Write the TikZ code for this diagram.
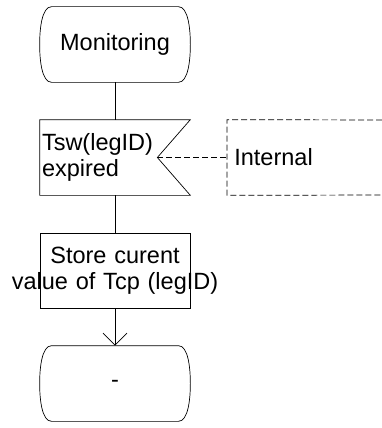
\documentclass[tikz,border=0pt]{standalone}
\usepackage{fontspec}
\setmainfont{Liberation Sans}
\usetikzlibrary{arrows.meta}
\newcommand\stateoutline[1]{%
\draw ([xshift=12pt]#1.north west) -- ([xshift=-12pt]#1.north east)
  .. controls +(10,0) and +(0,-15) .. (#1.east)
  .. controls +(0,15) and +(10,0) .. ([xshift=-12pt]#1.south east)
  -- ([xshift=12pt]#1.south west)
  .. controls +(-10,0) and +(0,15) .. (#1.west)
  .. controls +(0,-15) and +(-10,0) .. ([xshift=12pt]#1.north west) -- cycle;}
\begin{document}
\begin{tikzpicture}[x=1pt,y=-1pt,line width=0.7pt,
  every node/.style={font=\fontsize{23.5}{26}\selectfont},
  shapebox/.style={minimum width=150pt,minimum height=75pt,inner sep=0pt},
  sigbox/.style={shapebox,text width=146pt,inner xsep=2pt,align=left},
  taskbox/.style={shapebox,draw,text width=146pt,inner xsep=2pt,align=center},
  dashline/.style={dash pattern=on 6pt off 3pt},
  arrowflow/.style={-{Straight Barb[length=12pt,width=24pt]}}]
\useasboundingbox (0,0) rectangle (382,428);
\node[shapebox] (mon) at (115,44.5) {Monitoring};
\node[sigbox] (sig) at (115,157.5) {Tsw(legID)\\expired};
\node[taskbox] (task) at (115,270.5) {Store curent\\\makebox[\linewidth]{value of Tcp (legID)}};
\node[shapebox] (next) at (115,383.5) {-};
\node[minimum height=75pt,inner ysep=0pt,inner xsep=7pt,anchor=west] (ibox) at (227,157.5) {Internal};
\coordinate (notch) at ([xshift=-33pt]sig.east);
\stateoutline{mon}
\stateoutline{next}
\draw (sig.north west) -- (sig.north east) -- (notch) -- (sig.south east) -- (sig.south west) -- cycle;
\draw[dashline] (382,120) -- (ibox.north west) -- (ibox.south west) -- (382,195);
\draw (mon.south) -- (sig.north);
\draw (sig.south) -- (task.north);
\draw[arrowflow] (task.south) -- (next.north);
\draw[dashline] (notch) -- (ibox.west);
\end{tikzpicture}
\end{document}
